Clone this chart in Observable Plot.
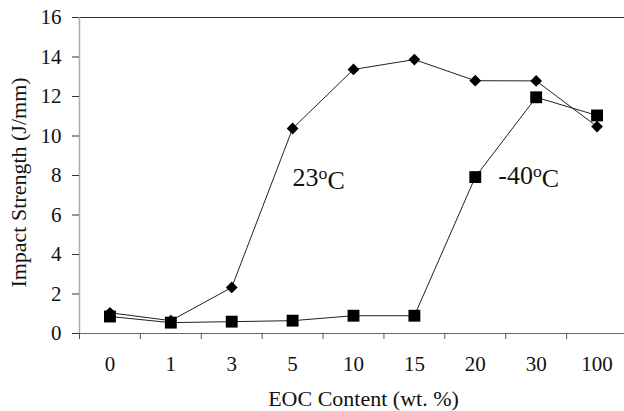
<!DOCTYPE html>
<html>
<head>
<meta charset="utf-8">
<script src="https://cdn.jsdelivr.net/npm/d3@7"></script>
<script src="https://cdn.jsdelivr.net/npm/@observablehq/plot@0.6"></script>
<style>
  html, body { margin: 0; padding: 0; background: #fff; }
  svg, svg text { font-family: "Liberation Serif", "Times New Roman", serif !important; }
</style>
</head>
<body>
<div id="chart"></div>
<script>
// Categories (EOC content, wt. %)
const categories = ["0", "1", "3", "5", "10", "15", "20", "30", "100"];
// Impact strength (J/mm)
const room = [1.05, 0.65, 2.33, 10.38, 13.37, 13.87, 12.8, 12.79, 10.48];   // 23 °C
const cold = [0.86, 0.55, 0.6, 0.65, 0.9, 0.9, 7.92, 11.96, 11.04];         // -40 °C
const yTicks = [0, 2, 4, 6, 8, 10, 12, 14, 16];
// Series labels: text, anchor category, anchor value
const labelText = ["23°C", "-40°C"];
const labelCat = ["5", "20"];
const labelVal = [7.9, 8.0];

const idx = c => categories.indexOf(c);
const roomData = categories.map((c, i) => ({x: i, y: room[i]}));
const coldData = categories.map((c, i) => ({x: i, y: cold[i]}));
const labels = labelText.map((t, i) => ({t, x: idx(labelCat[i]), y: labelVal[i]}));
const centers = categories.map((c, i) => i);
const bounds = categories.map((c, i) => i - 0.5);

const font = '"Liberation Serif", "Times New Roman", serif';

const chart = Plot.plot({
  width: 624,
  height: 411,
  marginTop: 17,
  marginLeft: 79,
  marginRight: -3,
  marginBottom: 78,
  style: {fontFamily: font, background: "#fff", overflow: "visible"},
  x: {type: "linear", domain: [-0.5, categories.length - 0.5], axis: null},
  y: {domain: [0, 16], axis: null},
  marks: [
    // top frame line
    Plot.ruleY([16], {stroke: "#333", strokeWidth: 1.2}),
    // y axis line (light gray)
    Plot.ruleX([-0.5], {stroke: "#aaa", strokeWidth: 1.5}),
    Plot.axisY({ticks: yTicks, tickSize: 7, tickPadding: 11, fontSize: 21, fontFamily: font, stroke: "#333", fill: "#111", label: null}),
    // x axis line
    Plot.ruleY([0], {stroke: "#666", strokeWidth: 1.2}),
    Plot.axisX({ticks: bounds, tickSize: 6, tickFormat: () => "", stroke: "#555", label: null}),
    Plot.axisX({ticks: centers, tickSize: 0, tickPadding: 23, tickFormat: i => categories[i], fontSize: 21, fontFamily: font, fill: "#111", label: null}),
    // axis titles
    Plot.text(["EOC Content (wt. %)"], {frameAnchor: "bottom", textAnchor: "middle", lineAnchor: "bottom", dy: 72, dx: 10, fontSize: 22, fontFamily: font, fill: "#111"}),
    Plot.text(["Impact Strength (J/mm)"], {frameAnchor: "left", textAnchor: "middle", lineAnchor: "middle", dx: -61, dy: 7, rotate: -90, fontSize: 22, fontFamily: font, fill: "#111"}),
    // lines
    Plot.line(roomData, {x: "x", y: "y", stroke: "#222", strokeWidth: 1}),
    Plot.line(coldData, {x: "x", y: "y", stroke: "#222", strokeWidth: 1}),
    Plot.dot(roomData, {x: "x", y: "y", symbol: "diamond2", r: 5.3, fill: "#000", stroke: "none"}),
    Plot.dot(coldData, {x: "x", y: "y", symbol: "square", r: 6.7, fill: "#000", stroke: "none"}),
    // series labels
    Plot.text(labels.slice(0, 1), {x: "x", y: "y", text: "t", textAnchor: "start", dx: 0, fontSize: 26, fontFamily: font, fill: "#111", className: "serieslabel"}),
    Plot.text(labels.slice(1), {x: "x", y: "y", text: "t", textAnchor: "start", dx: 23, fontSize: 26, fontFamily: font, fill: "#111", className: "serieslabel"})
  ]
});

// superscript "o" in the temperature labels
d3.select(chart).selectAll(".serieslabel text").each(function() {
  const t = this.textContent;
  const m = t.match(/^(.*)°C$/);
  if (!m) return;
  const el = d3.select(this);
  el.text(null);
  el.append("tspan").text(m[1]);
  el.append("tspan").attr("dy", "-0.4em").attr("font-size", "0.68em").text("o");
  el.append("tspan").attr("dy", "0.4em").text("C");
});

document.getElementById("chart").appendChild(chart);
</script>
</body>
</html>
